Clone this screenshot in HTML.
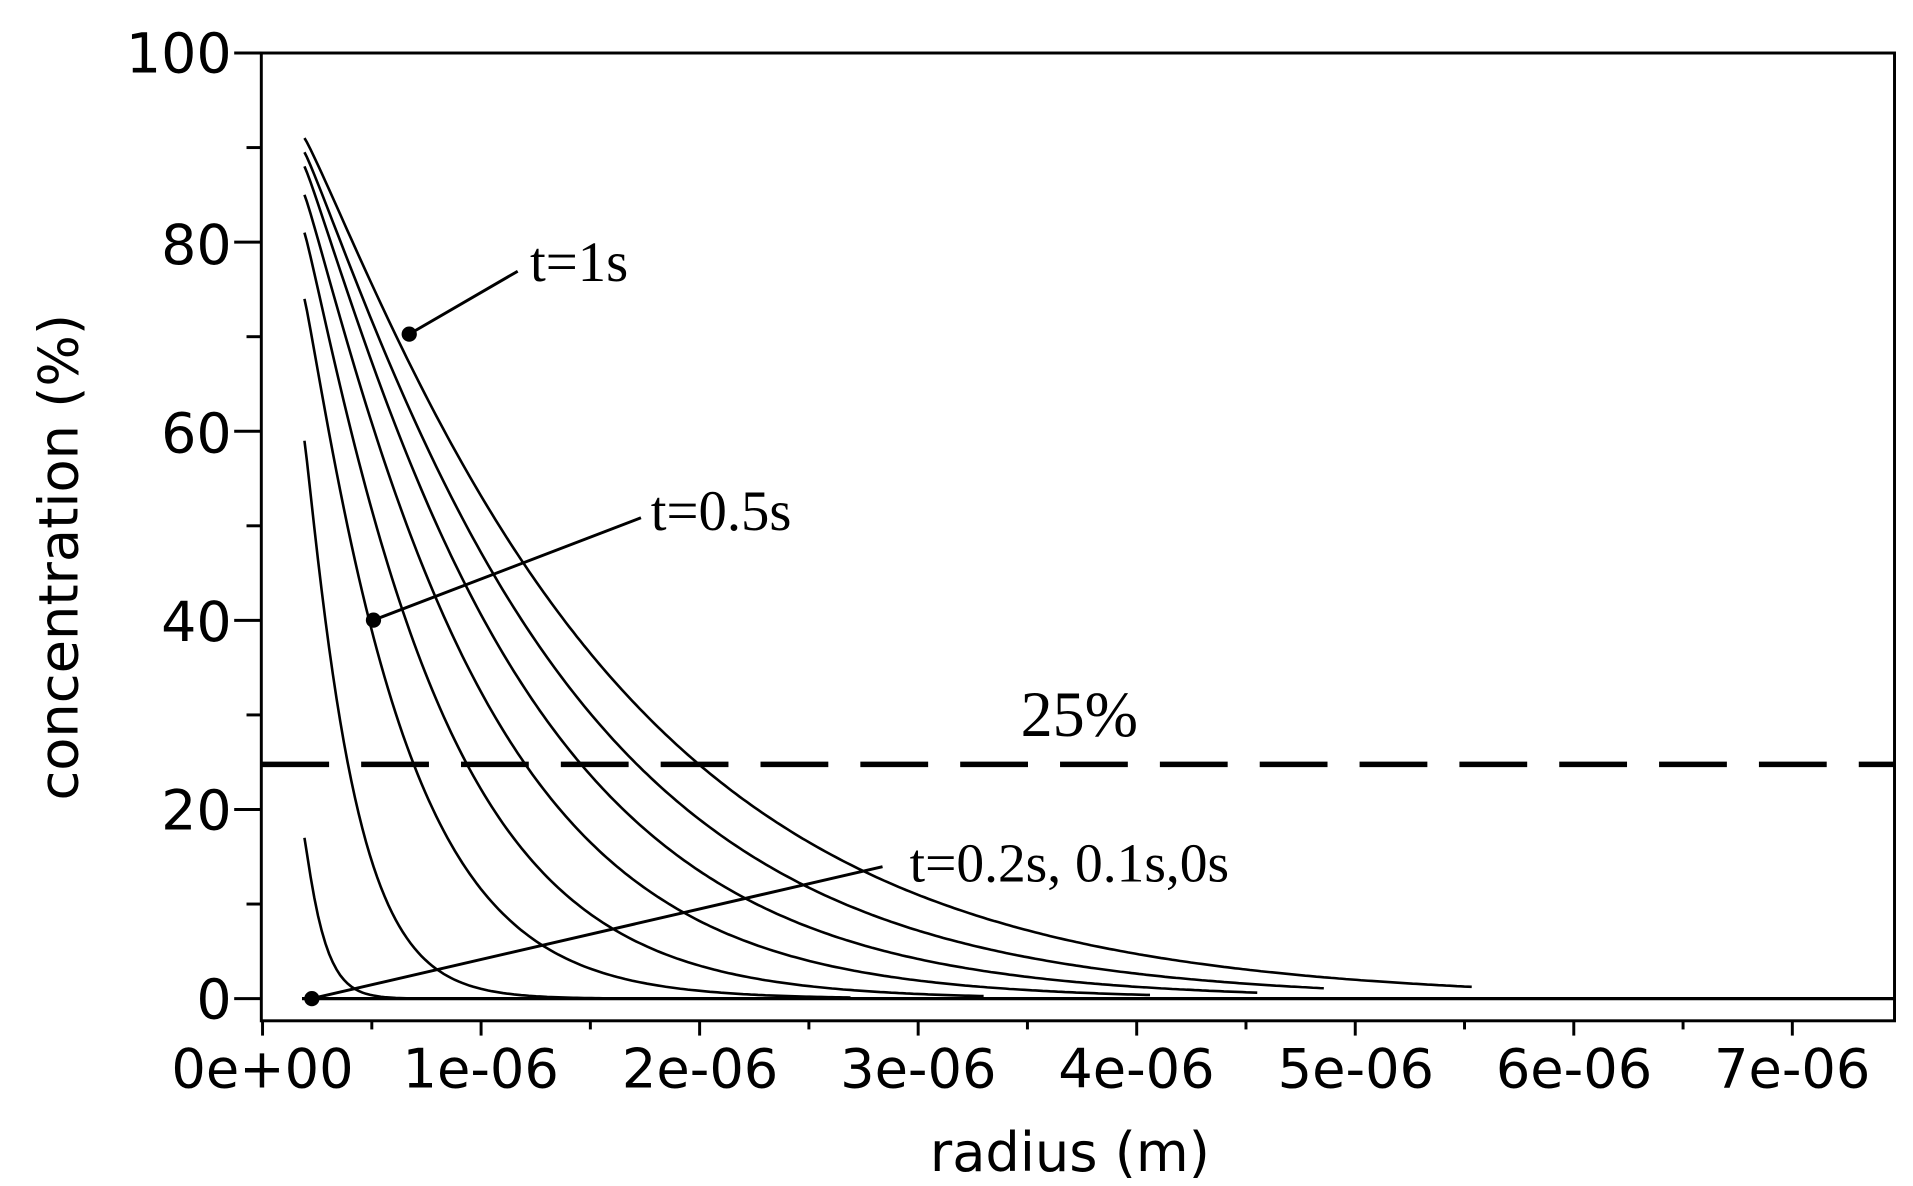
<!DOCTYPE html>
<html><head><meta charset="utf-8"><style>
html,body{margin:0;padding:0;background:#fff}
svg{display:block}
</style></head><body>
<svg id="s" width="1913" height="1186" viewBox="0 0 1552 962" preserveAspectRatio="none" xmlns="http://www.w3.org/2000/svg">
<rect width="1552" height="962" fill="#fff"/>
<g stroke="#000" fill="none" stroke-width="2.4">
<rect x="212" y="43" width="1325" height="785"/>
</g>
<g id="ticks" stroke="#000" stroke-width="2.4"></g>
<g font-family="DejaVu Sans, Liberation Sans, sans-serif" font-size="45" fill="#000" text-anchor="end">
<text x="188" y="59">100</text>
<text x="188" y="214">80</text>
<text x="188" y="367">60</text>
<text x="188" y="520">40</text>
<text x="188" y="673">20</text>
<text x="188" y="826">0</text>
</g>
<g font-family="DejaVu Sans, Liberation Sans, sans-serif" font-size="44" fill="#000" text-anchor="middle">
<text x="213" y="882">0e+00</text>
<text x="390" y="882">1e-06</text>
<text x="568" y="882">2e-06</text>
<text x="745" y="882">3e-06</text>
<text x="922" y="882">4e-06</text>
<text x="1100" y="882">5e-06</text>
<text x="1277" y="882">6e-06</text>
<text x="1454" y="882">7e-06</text>
<text x="868" y="950">radius (m)</text>
<text transform="translate(63,452) rotate(-90)">concentration (%)</text>
</g>
<line x1="245" y1="810" x2="1537" y2="810" stroke="#000" stroke-width="2.6"/>
<line x1="212" y1="620" x2="1537" y2="620" stroke="#000" stroke-width="4.5" stroke-dasharray="55,26"/>
<g id="curves" stroke="#000" fill="none" stroke-width="2.1"></g>
<g stroke="#000" stroke-width="2.4" fill="#000">
<line x1="332" y1="271" x2="420" y2="220"/><circle cx="332" cy="271" r="5"/>
<line x1="303" y1="503" x2="520" y2="420"/><circle cx="303" cy="503" r="5"/>
<line x1="253" y1="810" x2="716" y2="703"/><circle cx="253" cy="810" r="5"/>
</g>
<g font-family="Liberation Serif, serif" font-size="46" fill="#000">
<text x="430" y="228">t=1s</text>
<text x="528" y="430">t=0.5s</text>
<text x="738" y="715" font-size="45">t=0.2s, 0.1s,0s</text>
<text x="828" y="597" font-size="52">25%</text>
</g>
</svg>
<script>
var t=document.getElementById("ticks"),s="";
for(var i=0;i<=10;i++){var y=810-i*76.7;var l=(i%2==0)?22:12;s+='<line x1="'+(212-l)+'" y1="'+y+'" x2="212" y2="'+y+'"/>';}
for(var i=0;i<=14;i++){var x=213+i*88.65;var l=(i%2==0)?12:7;s+='<line x1="'+x+'" y1="828" x2="'+x+'" y2="'+(828+l)+'"/>';}
t.innerHTML=s;
function Y(c){return 810-c*7.67;}
var p=1.1;
var cs=[[91,565,1195],[89.5,515,1075],[88,470,1020],[85,425,935],[81,378,800],[74,335,690],[59,282,560],[17,0,440]];
var out="";
cs.forEach(function(c){var c0=c[0],L;
if(c[1]==0)L=16;else L=(c[1]-247)/Math.pow(Math.log(c0/25),1/p);
var d="M247,"+Y(c0).toFixed(1);
for(var x=249;x<=c[2];x+=3){d+=" L"+x+","+Y(c0*Math.exp(-Math.pow((x-247)/L,p))).toFixed(1);}
out+='<path d="'+d+'"/>';});
document.getElementById("curves").innerHTML=out;
</script>
</body></html>
